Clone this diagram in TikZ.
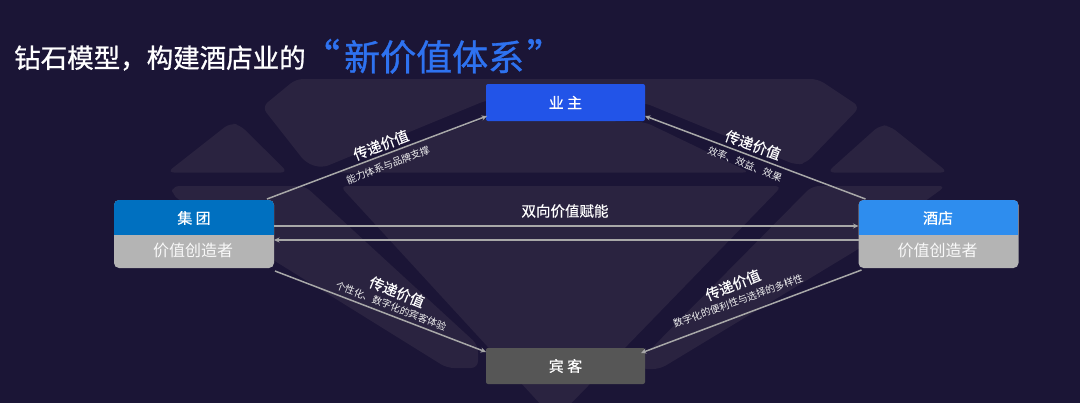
\documentclass[tikz,border=0pt]{standalone}
\usepackage{fontspec}
\setmainfont{Noto Sans CJK SC}
\newfontfamily\med[FakeBold=0.45]{Noto Sans CJK SC}
\newfontfamily\hvy[FakeBold=0.9]{Noto Sans CJK SC}
\usetikzlibrary{calc,arrows.meta}
\definecolor{bgc}{HTML}{1B1536}
\definecolor{shp}{HTML}{2A2340}
\definecolor{lin}{HTML}{A8A8A8}
\definecolor{gry}{HTML}{B4B4B4}
\definecolor{blu1}{HTML}{0070C0}
\definecolor{blu2}{HTML}{2E8DEE}
\definecolor{blu3}{HTML}{2254E8}
\definecolor{gst}{HTML}{565656}
\definecolor{ttl}{HTML}{2E72F0}
\newcommand{\fs}[1]{\fontsize{#1}{#1}\selectfont}
\tikzset{
  dia/.style={fill=shp,rounded corners=7pt},
  sidebox/.style={minimum width=160pt,minimum height=68pt,inner sep=0pt,outer sep=0pt,rounded corners=5pt,fill=gry},
  topbox/.style={minimum width=159pt,minimum height=37pt,inner sep=0pt,outer sep=0pt,rounded corners=2pt,text=white,font=\med\fs{15}},
  headtxt/.style={inner sep=0pt,text=white,font=\med\fs{15}},
  roletxt/.style={inner sep=0pt,text=white!92!gry,font=\fs{16}},
  lab/.style={inner sep=0pt,text=white,font=\med\fs{14.5}},
  sublab/.style={inner sep=0pt,text=white!82!gry,font=\fs{9.8}},
  conn/.style={draw=lin,line width=1.5pt,-{Stealth[length=5.5pt,width=5pt]}}
}
\begin{document}
\begin{tikzpicture}[x=1pt,y=-1pt]
\useasboundingbox (0,0) rectangle (1080,402);
\clip (0,0) rectangle (1080,402);
\fill[bgc] (-2,-2) rectangle (1082,404);
% diamond background
\path[dia] (262,107) -- (296,79) -- (818,79) -- (860,107) -- (806,163) -- (796,165) -- (645,103) -- (487,100) -- (322,168) -- (306,163) -- cycle;
\path[dia] (335,172.5) -- (487,118) -- (645,122) -- (750,172.5) -- cycle;
\path[dia] (167,172.5) -- (230,123) -- (240,125) -- (288,172.5) -- cycle;
\path[dia] (827,172.5) -- (880,125) -- (890,126) -- (948,172.5) -- cycle;
\path[dia] (172,186) -- (305,186) -- (478,345) -- (478,368) -- (447,368) -- (270,258) -- (172,195) -- cycle;
\path[dia] (340,186) -- (782,186) -- (555,420) -- cycle;
\path[dia] (812,186) -- (946,186) -- (860,248) -- (660,369) -- (640,369) -- (640,360) -- cycle;
% title
\node[inner sep=0pt,anchor=west,text=white,font=\hvy\fs{26.5}] (t1) at (14,58) {钻石模型，构建酒店业的};
\node[inner sep=0pt,anchor=west,text=ttl,font=\hvy\fs{36}] (t2) at (344,57) {新价值体系};
\node[inner sep=0pt,text=ttl,font=\hvy\fs{38}] (q1) at (321,55) {“};
\node[inner sep=0pt,text=ttl,font=\hvy\fs{38}] (q2) at (546,55) {”};
% boxes
\node[sidebox,path picture={\fill[blu1,sharp corners] (path picture bounding box.north west) rectangle ($(path picture bounding box.north east)+(0,35)$);}] (jt) at (194,234) {};
\node[sidebox,path picture={\fill[blu2,sharp corners] (path picture bounding box.north west) rectangle ($(path picture bounding box.north east)+(0,35)$);}] (jd) at (938.5,234) {};
\node[topbox,fill=blu3] (yz) at (565.5,102.5) {业 主};
\node[topbox,fill=gst,minimum height=36pt] (bk) at (565.5,366) {宾 客};
\node[headtxt] (jt1) at (194,218) {集 团};
\node[roletxt] (jt2) at (193,250) {价值创造者};
\node[headtxt] (jd1) at (938,218) {酒店};
\node[roletxt] (jd2) at (937.5,250) {价值创造者};
% connectors
\draw[conn] ($(jt.north east)+(-7,-1)$) -- ($(yz.south west)+(1,-5)$);
\draw[conn] ($(jd.north west)+(7,-1)$) -- ($(yz.south east)+(0,-5)$);
\draw[conn] ($(jt.north east)+(0,26)$) -- ($(jd.north west)+(0,26)$);
\draw[conn] ($(jd.north west)+(0,40)$) -- ($(jt.north east)+(0,40)$);
\draw[conn] ($(jt.south east)+(1,3)$) -- ($(bk.north west)+(0,4)$);
\draw[conn] ($(jd.south west)+(3,2)$) -- ($(bk.north east)+(-4,5)$);
% labels
\node[lab,rotate=21] (l1) at (381,145) {传递价值};
\node[sublab,rotate=21] (s1) at (388,165) {能力体系与品牌支撑};
\node[lab,rotate=-20] (l2) at (753,145) {传递价值};
\node[sublab,rotate=-21] (s2) at (745,164) {效率、效益、效果};
\node[lab,rotate=-22] (l3) at (397,292) {传递价值};
\node[sublab,rotate=-21] (s3) at (391,306) {个性化、数字化的宾客体验};
\node[lab,rotate=22] (l4) at (733,285) {传递价值};
\node[sublab,rotate=20] (s4) at (738,301) {数字化的便利性与选择的多样性};
\node[lab] (l5) at (565,211) {双向价值赋能};
\end{tikzpicture}
\end{document}
